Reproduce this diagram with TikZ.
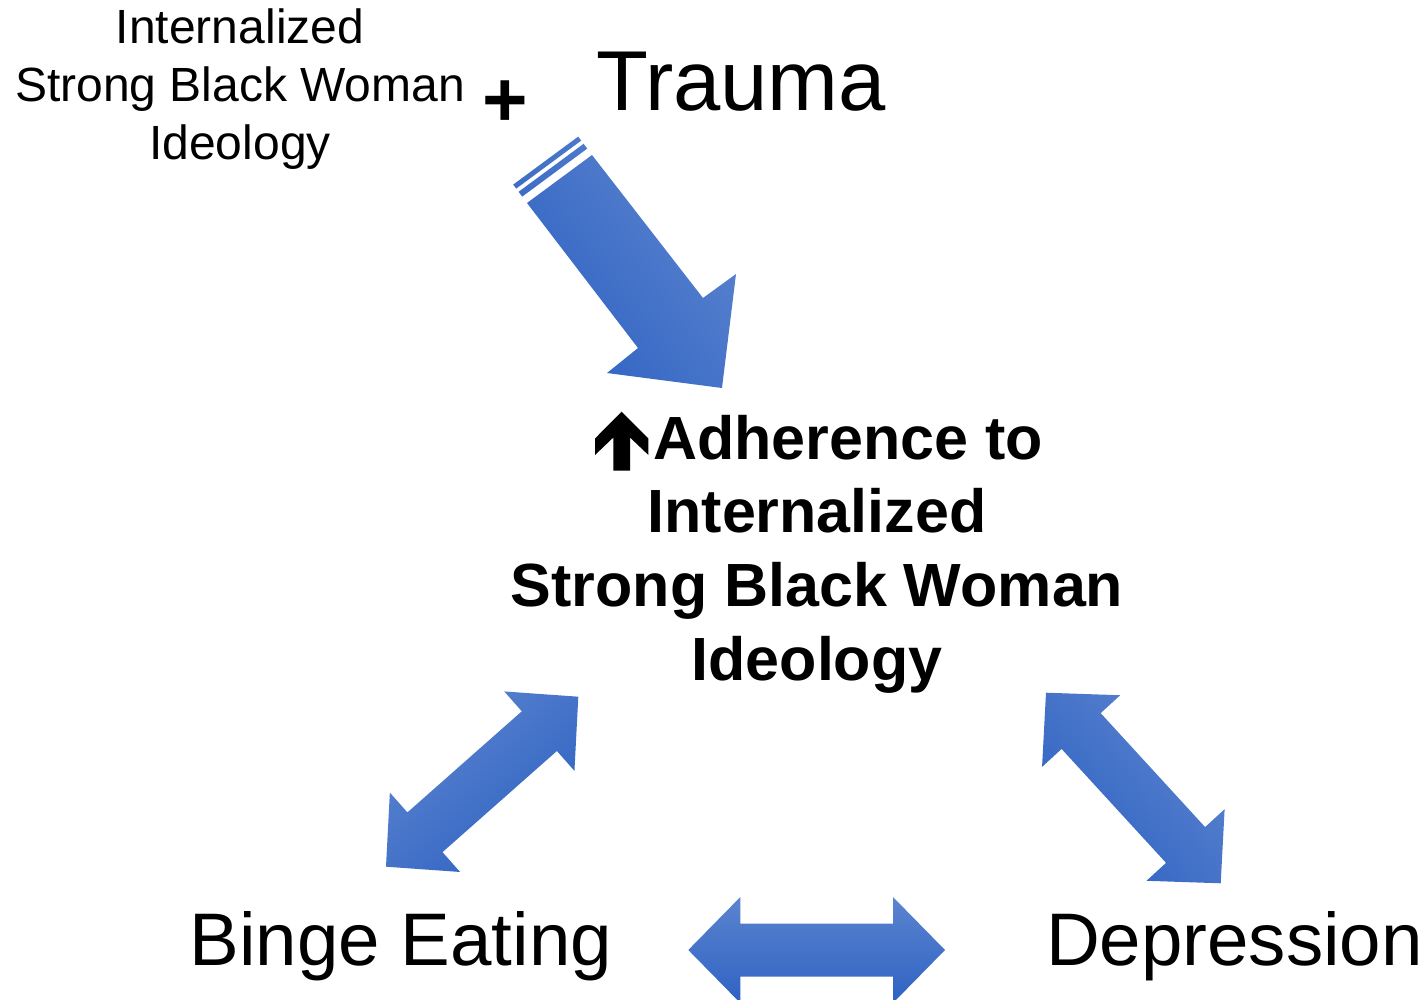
\documentclass[tikz,border=0pt]{standalone}
\usepackage{fontspec}
\setmainfont{Liberation Sans}
\usetikzlibrary{calc}
\definecolor{arrowlight}{RGB}{92,132,207}
\definecolor{arrowdark}{RGB}{46,98,194}

% Block double-headed arrow between two tip coordinates:
% #1, #2 = tips, #3 = shading angle (light side on top before rotation)
\newcommand\twowayarrow[3]{%
  \path ($(#1)!52pt!(#2)$) coordinate (hA)
        ($(#2)!52pt!(#1)$) coordinate (hB);
  \shade[arrowshade, shading angle=#3] (#1)
    -- ($(hA)!53pt!90:(#2)$)   -- ($(hA)!26.5pt!90:(#2)$)
    -- ($(hB)!26.5pt!-90:(#1)$) -- ($(hB)!53pt!-90:(#1)$)
    -- (#2)
    -- ($(hB)!53pt!90:(#1)$)   -- ($(hB)!26.5pt!90:(#1)$)
    -- ($(hA)!26.5pt!-90:(#2)$) -- ($(hA)!53pt!-90:(#2)$)
    -- cycle;
}

\begin{document}
\begin{tikzpicture}[x=1pt,y=-1pt,
  txt/.style={inner sep=0pt, outer sep=0pt, text=black},
  arrowshade/.style={top color=arrowlight, bottom color=arrowdark, draw=none},
]
\useasboundingbox (0,0) rectangle (1427,999);

% ---- labels (base anchor = baseline of the last line) ----
\node[txt, anchor=base, align=center, font=\fontsize{48}{58}\selectfont]
  (sbw) at (240,159) {Internalized\\Strong Black Woman\\Ideology};
\node[txt, anchor=base, font=\bfseries\fontsize{78}{78}\selectfont]
  (plus) at (505.5,126.8) {+};
\node[txt, anchor=base west, font=\fontsize{85}{85}\selectfont]
  (trauma) at (596.3,110) {Trauma};
\node[txt, anchor=base, align=center, font=\bfseries\fontsize{61}{73.7}\selectfont]
  (adh) at (817,680.1) {\hspace*{62pt}Adherence to\\Internalized\\Strong Black Woman\\Ideology};
\node[txt, anchor=base west, font=\fontsize{74.5}{74.5}\selectfont]
  (binge) at (189.6,965) {Binge Eating};
\node[txt, anchor=base west, font=\fontsize{74.5}{74.5}\selectfont]
  (dep) at (1046,965) {Depression};

% up arrow in front of "Adherence to"
\fill[black] (621.7,411.7) -- (648.4,438.5) -- (648.4,455) -- (630,437.5)
  -- (630,470.5) -- (613.3,470.5) -- (613.3,437.5) -- (595,455)
  -- (595,438.5) -- cycle;

% ---- arrow tips ----
\coordinate (ttip) at (722,388);
\coordinate (bl1) at (578.3,696.7);  \coordinate (bl2) at (386,866.7);
\coordinate (br1) at (1046,692.7);   \coordinate (br2) at (1220.7,883.3);
\coordinate (bh1) at (688.3,950);    \coordinate (bh2) at (945,950);

\begin{scope}
  \clip (0,0) rectangle (1427,999);
  % striped arrow from the top pair into the central statement
  \shade[arrowshade, shading angle=-53]
    (527,203) -- (592,155) -- (703,298) -- (736,274) -- (ttip)
      -- (607,373) -- (638,348) -- cycle
    (522.2,196.6) -- (587.2,148.6) -- (583.6,143.8) -- (518.6,191.8) -- cycle
    (516.2,188.6) -- (581.2,140.6) -- (578.2,136.6) -- (513.2,184.6) -- cycle;
  % two-way links
  \twowayarrow{bl1}{bl2}{41.5}
  \twowayarrow{br1}{br2}{-47.5}
  \twowayarrow{bh1}{bh2}{0}
\end{scope}
\end{tikzpicture}
\end{document}
